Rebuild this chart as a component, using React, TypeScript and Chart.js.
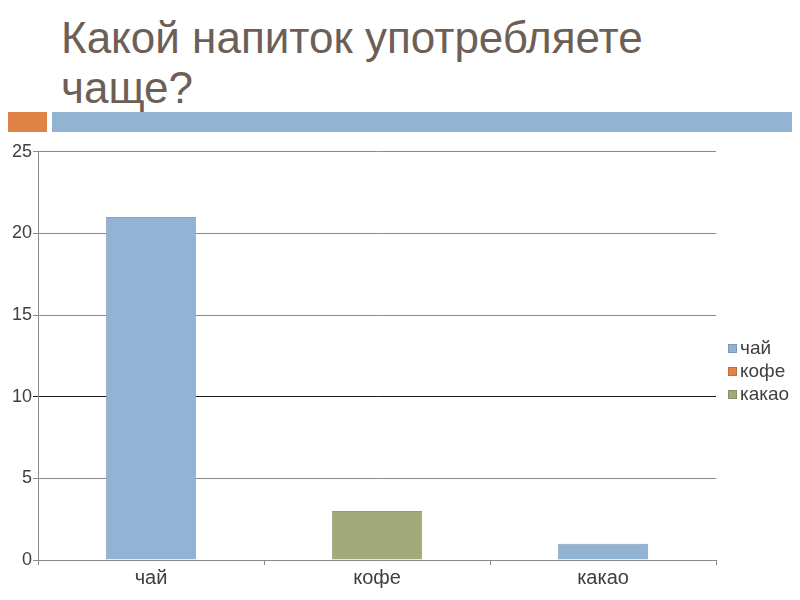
import React, { useEffect, useRef } from "react";
import { Chart, registerables } from "chart.js";

Chart.register(...registerables);

const categories = ["чай", "кофе", "какао"];
const values = [21, 3, 1];
const barColors = ["#93b3d4", "#a3aa79", "#93b3d4"];
const barBorders = ["#8aa2bd", "#979d72", "#8aa2bd"];
const legendLabels = ["чай", "кофе", "какао"];
const legendColors = ["#93b3d4", "#e0834b", "#a3aa79"];
const yTicks = [0, 5, 10, 15, 20, 25];
const title = ["Какой напиток употребляете", "чаще?"];

const FONT = "'Liberation Sans', Arial, sans-serif";

export default function App() {
  const ref = useRef<HTMLCanvasElement | null>(null);

  useEffect(() => {
    if (!ref.current) return;
    const chart = new Chart(ref.current, {
      type: "bar",
      data: {
        labels: categories,
        datasets: [
          {
            data: values,
            backgroundColor: barColors,
            borderColor: barBorders,
            borderWidth: 1,
            barPercentage: 0.4,
            categoryPercentage: 1,
          },
        ],
      },
      options: {
        animation: false,
        responsive: false,
        maintainAspectRatio: false,
        layout: { padding: { top: 11, right: 84, left: 0, bottom: 0 } },
        plugins: { legend: { display: false }, tooltip: { enabled: false } },
        scales: {
          x: {
            offset: true,
            grid: {
              offset: true,
              drawOnChartArea: false,
              drawTicks: true,
              tickLength: 5,
              color: "#8a8a8a",
            },
            border: { display: true, color: "#8a8a8a", width: 1 },
            ticks: {
              color: "#404040",
              font: { family: FONT, size: 20 },
              padding: 1,
            },
            afterFit: (scale: any) => {
              scale.height = 40;
            },
          },
          y: {
            min: 0,
            max: 25,
            afterBuildTicks: (scale: any) => {
              scale.ticks = yTicks.map((v) => ({ value: v }));
            },
            grid: {
              color: (ctx: any) => (ctx.tick && ctx.tick.value === 10 ? "#1a1a1a" : "#8a8a8a"),
              tickLength: 5,
              lineWidth: 1,
            },
            border: { display: true, color: "#8a8a8a", width: 1 },
            ticks: {
              color: "#404040",
              font: { family: FONT, size: 18 },
              padding: 1,
            },
            afterFit: (scale: any) => {
              scale.width = 38;
            },
          },
        },
      },
    });
    return () => chart.destroy();
  }, []);

  return (
    <div style={{ position: "relative", width: 800, height: 600, margin: -8, background: "#fff", overflow: "hidden" }}>
      <div
        style={{
          position: "absolute",
          left: 61,
          top: 13,
          fontFamily: FONT,
          fontSize: 44,
          lineHeight: "50px",
          color: "#6e5f56",
          whiteSpace: "nowrap",
        }}
      >
        {title.map((t, i) => (
          <div key={i}>{t}</div>
        ))}
      </div>
      <div style={{ position: "absolute", left: 0, top: 112, width: 47, height: 20, background: "#df8246" }} />
      <div style={{ position: "absolute", left: 52, top: 112, width: 748, height: 20, background: "#93b3d3" }} />
      <canvas
        ref={ref}
        width={800}
        height={460}
        style={{ position: "absolute", left: 0, top: 140, width: 800, height: 460 }}
      />
      {legendLabels.map((l, i) => (
        <div
          key={l}
          style={{
            position: "absolute",
            left: 728,
            top: 337 + i * 23,
            height: 22,
            display: "flex",
            alignItems: "center",
            fontFamily: FONT,
            fontSize: 19,
            color: "#404040",
            whiteSpace: "nowrap",
          }}
        >
          <span
            style={{
              display: "inline-block",
              width: 7,
              height: 7,
              background: legendColors[i],
              border: "1px solid rgba(0,0,0,0.15)",
              marginRight: 3,
            }}
          />
          {l}
        </div>
      ))}
    </div>
  );
}
